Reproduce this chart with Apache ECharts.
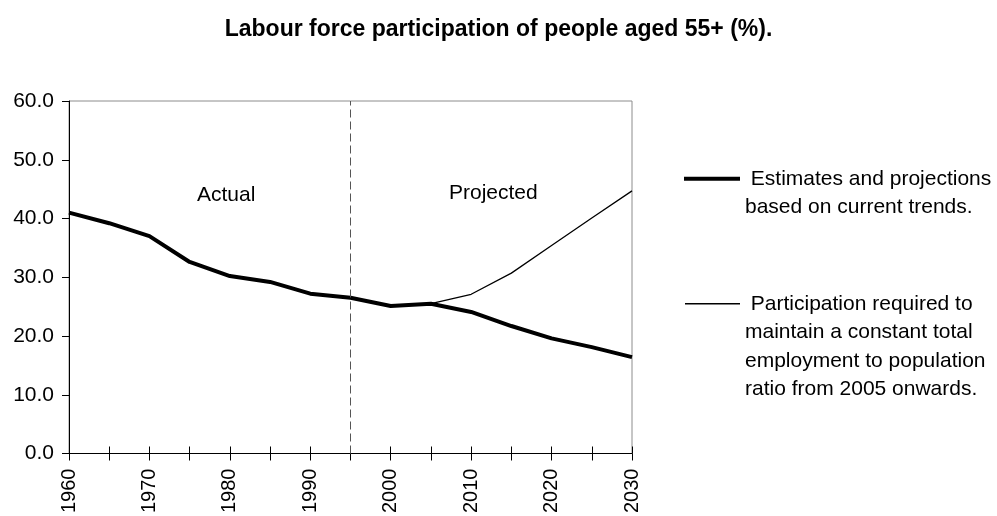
<!DOCTYPE html>
<html>
<head>
<meta charset="utf-8">
<script src="https://cdn.jsdelivr.net/npm/echarts@6/dist/echarts.min.js"></script>
<style>
  html, body { margin: 0; padding: 0; background: #fff; }
  #chart { width: 997px; height: 516px; }
</style>
</head>
<body>
<div id="chart"></div>
<script>
// Years on the horizontal axis (every 5 years)
const years = ['1960','1965','1970','1975','1980','1985','1990','1995','2000','2005','2010','2015','2020','2025','2030'];
// Labour force participation, people aged 55+ (%)
const estimates = [41.0, 39.2, 37.0, 32.6, 30.2, 29.2, 27.2, 26.5, 25.1, 25.5, 24.1, 21.7, 19.6, 18.1, 16.4];
const required  = [null, null, null, null, null, null, null, null, null, 25.5, 27.1, 30.7, 35.4, 40.1, 44.7];
const yTicks = [0, 10, 20, 30, 40, 50, 60];
const splitYear = '1995';

const seriesNames = [
  ' Estimates and projections\nbased on current trends.',
  ' Participation required to\nmaintain a constant total\nemployment to population\nratio from 2005 onwards.'
];

const FONT = 'Liberation Sans, Arial, sans-serif';
const LINE_H = 28.5;

// Pad the legend text with blank lines above so the icon sits beside the first line
function topAligned(name) {
  const n = name.split('\n').length;
  return '\n'.repeat(n - 1) + name;
}

const chart = echarts.init(document.getElementById('chart'), null, { renderer: 'canvas' });

chart.setOption({
  animation: false,
  backgroundColor: '#ffffff',
  title: {
    text: 'Labour force participation of people aged 55+ (%).',
    left: 'center',
    top: 13,
    textStyle: { fontFamily: FONT, fontSize: 23, fontWeight: 'bold', color: '#000' }
  },
  grid: {
    left: 69, right: 365, top: 101, bottom: 61,
    show: true, borderColor: '#8c8c8c', borderWidth: 1
  },
  legend: [
    {
      data: [{ name: seriesNames[0], icon: 'rect' }],
      left: 684, top: 136, padding: 0,
      itemWidth: 56, itemHeight: 4,
      selectedMode: false,
      formatter: topAligned,
      textStyle: { fontFamily: FONT, fontSize: 21, color: '#000', lineHeight: LINE_H }
    },
    {
      data: [{ name: seriesNames[1], icon: 'rect' }],
      left: 685, top: 204, padding: 0,
      itemWidth: 55, itemHeight: 1.3,
      selectedMode: false,
      formatter: topAligned,
      textStyle: { fontFamily: FONT, fontSize: 21, color: '#000', lineHeight: LINE_H }
    }
  ],
  xAxis: [
    {
      type: 'category',
      data: years,
      boundaryGap: false,
      axisLine: { show: true, lineStyle: { color: '#000', width: 1 } },
      axisTick: { show: true, inside: false, length: 7, interval: 0, lineStyle: { color: '#000' } },
      axisLabel: {
        interval: 1, rotate: 90, margin: 15,
        fontFamily: FONT, fontSize: 20, color: '#000'
      },
      splitLine: { show: false }
    },
    {
      // inner half of the crossing ticks
      type: 'category',
      data: years,
      position: 'bottom',
      offset: 0,
      boundaryGap: false,
      axisLine: { show: false },
      axisTick: { show: true, inside: true, length: 7, interval: 0, lineStyle: { color: '#000' } },
      axisLabel: { show: false },
      splitLine: { show: false }
    }
  ],
  yAxis: {
    type: 'value',
    min: 0, max: 60, interval: 10,
    axisLine: { show: true, lineStyle: { color: '#000', width: 1 } },
    axisTick: { show: true, length: 7, lineStyle: { color: '#000' } },
    axisLabel: {
      margin: 15,
      fontFamily: FONT, fontSize: 21, color: '#000',
      formatter: v => yTicks.includes(v) ? v.toFixed(1) : ''
    },
    splitLine: { show: false }
  },
  graphic: [
    { type: 'text', left: 197, top: 185, style: { text: 'Actual', fontFamily: FONT, fontSize: 21, fill: '#000' } },
    { type: 'text', left: 449, top: 183, style: { text: 'Projected', fontFamily: FONT, fontSize: 21, fill: '#000' } }
  ],
  series: [
    {
      name: seriesNames[0],
      type: 'line',
      data: estimates,
      symbol: 'none',
      color: '#000',
      lineStyle: { color: '#000', width: 4 },
      z: 3,
      markLine: {
        silent: true,
        symbol: 'none',
        label: { show: false },
        lineStyle: { color: '#555', type: [8, 4], width: 1 },
        data: [{ xAxis: splitYear }]
      }
    },
    {
      name: seriesNames[1],
      type: 'line',
      data: required,
      symbol: 'none',
      color: '#000',
      lineStyle: { color: '#000', width: 1.3 },
      z: 2
    }
  ]
});
</script>
</body>
</html>
